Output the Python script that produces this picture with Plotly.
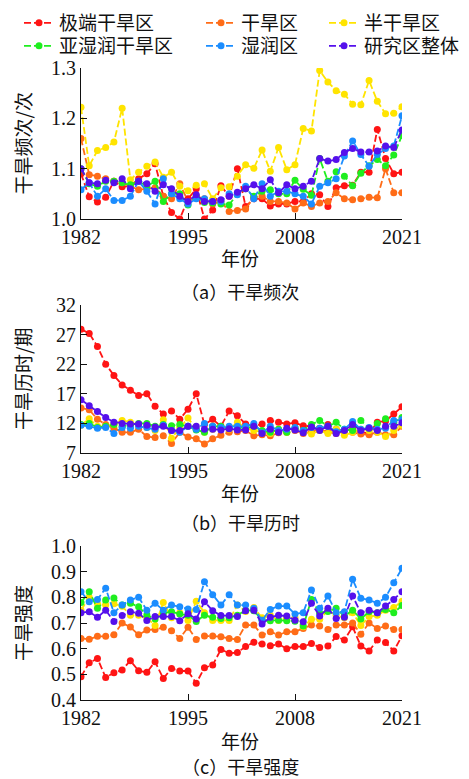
import plotly.graph_objects as go

years = list(range(1982, 2022))
names = ["极端干旱区", "干旱区", "半干旱区", "亚湿润干旱区", "湿润区", "研究区整体"]
colors = ["#ff1414", "#ff6c17", "#ffe400", "#1fee1f", "#1b8dff", "#5510ec"]

# (a) 干旱频次
freq_extreme = [1.09, 1.044, 1.034, 1.043, 1.075, 1.064, 1.065, 1.08, 1.09, 1.11, 1.045, 1.013, 1.0, 1.04, 1.06, 1.0,
                1.018, 1.066, 1.045, 1.1, 1.025, 1.04, 1.04, 1.026, 1.03, 1.03, 1.035, 1.035, 1.05, 1.048,
                1.025, 1.062, 1.066, 1.067, 1.093, 1.093, 1.178, 1.12, 1.09, 1.093]
freq_arid = [1.16, 1.088, 1.085, 1.08, 1.075, 1.072, 1.065, 1.058, 1.06, 1.062, 1.045, 1.04, 1.07, 1.035, 1.045, 1.04,
             1.03, 1.035, 1.015, 1.017, 1.02, 1.043, 1.045, 1.035, 1.035, 1.032, 1.02, 1.032, 1.025, 1.032,
             1.035, 1.052, 1.04, 1.038, 1.04, 1.043, 1.042, 1.1, 1.052, 1.052]
freq_semiarid = [1.222, 1.106, 1.136, 1.142, 1.153, 1.22, 1.078, 1.093, 1.105, 1.113, 1.083, 1.093, 1.065, 1.056, 1.067,
                 1.07, 1.04, 1.062, 1.064, 1.085, 1.108, 1.101, 1.137, 1.095, 1.142, 1.098, 1.108, 1.18, 1.175,
                 1.295, 1.272, 1.255, 1.248, 1.228, 1.227, 1.275, 1.234, 1.209, 1.21, 1.223]
freq_subhumid = [1.1, 1.07, 1.065, 1.075, 1.075, 1.072, 1.068, 1.075, 1.065, 1.075, 1.035, 1.05, 1.05, 1.028, 1.045,
                 1.033, 1.032, 1.03, 1.028, 1.05, 1.06, 1.045, 1.055, 1.058, 1.05, 1.05, 1.077, 1.059, 1.047,
                 1.12, 1.075, 1.094, 1.085, 1.066, 1.091, 1.106, 1.118, 1.106, 1.127, 1.166]
freq_humid = [1.058, 1.072, 1.045, 1.06, 1.037, 1.037, 1.045, 1.075, 1.055, 1.03, 1.08, 1.05, 1.04, 1.03, 1.04, 1.04,
              1.035, 1.035, 1.05, 1.048, 1.065, 1.04, 1.07, 1.045, 1.055, 1.055, 1.05, 1.045, 1.03, 1.065,
              1.072, 1.08, 1.125, 1.155, 1.128, 1.105, 1.128, 1.14, 1.145, 1.205]
freq_all = [1.1, 1.072, 1.07, 1.077, 1.072, 1.08, 1.06, 1.075, 1.07, 1.055, 1.068, 1.06, 1.045, 1.035, 1.048, 1.035,
            1.035, 1.038, 1.045, 1.053, 1.06, 1.068, 1.06, 1.078, 1.052, 1.068, 1.06, 1.065, 1.075, 1.12,
            1.115, 1.118, 1.132, 1.14, 1.133, 1.133, 1.135, 1.145, 1.142, 1.177]

# (b) 干旱历时
dur_extreme = [27.9, 27.2, 25.0, 22.0, 20.1, 18.5, 17.6, 16.7, 17.0, 14.9, 13.6, 14.1, 12.7, 14.4, 17.0, 11.8,
               12.7, 11.5, 14.1, 13.3, 11.9, 11.5, 11.9, 12.5, 12.2, 11.9, 12.1, 11.6, 11.5, 11.2,
               11.8, 11.0, 10.8, 11.0, 10.5, 10.3, 12.2, 12.4, 13.6, 14.8]
dur_arid = [14.6, 14.3, 12.7, 11.8, 11.2, 10.5, 10.5, 11.0, 9.8, 9.6, 9.9, 8.6, 10.5, 9.7, 9.4, 8.5,
            9.4, 10.0, 10.5, 10.6, 10.8, 9.9, 10.1, 9.9, 10.4, 10.5, 10.8, 10.3, 10.6, 11.0,
            10.5, 10.3, 10.8, 10.5, 10.2, 10.1, 10.5, 10.1, 10.1, 11.5]
dur_semiarid = [11.7, 12.8, 11.5, 11.5, 11.8, 12.5, 12.2, 11.8, 11.3, 10.8, 12.6, 9.5, 11.3, 12.9, 11.0, 10.5,
                11.0, 11.2, 11.0, 12.2, 11.2, 10.8, 10.5, 10.3, 11.0, 10.5, 11.2, 10.5, 10.2, 10.8,
                10.3, 11.0, 10.0, 10.5, 11.0, 10.8, 10.5, 9.8, 10.8, 11.7]
dur_subhumid = [11.8, 12.0, 11.3, 11.5, 11.8, 11.5, 11.7, 12.0, 12.0, 11.5, 11.8, 11.6, 11.8, 11.5, 10.9, 10.5,
                11.5, 11.5, 11.2, 11.3, 11.2, 11.5, 10.8, 10.5, 11.0, 10.5, 11.2, 10.8, 11.8, 12.5,
                11.5, 12.2, 11.0, 10.8, 12.5, 11.2, 12.0, 12.8, 12.2, 13.0]
dur_humid = [11.7, 11.5, 11.2, 11.3, 10.3, 11.3, 11.2, 11.5, 11.3, 11.0, 11.7, 10.8, 10.5, 11.5, 11.0, 12.0,
             11.5, 11.3, 11.5, 11.5, 11.5, 12.0, 10.4, 11.5, 10.8, 11.0, 11.3, 10.8, 11.3, 11.2,
             11.5, 10.6, 11.0, 12.3, 11.0, 11.3, 11.0, 11.2, 12.5, 12.6]
dur_all = [16.0, 15.0, 14.0, 13.0, 12.2, 12.0, 11.9, 11.9, 11.7, 11.4, 11.5, 10.8, 10.8, 11.5, 11.5, 11.0,
           11.0, 10.9, 11.1, 10.9, 10.9, 11.5, 10.3, 11.0, 10.5, 11.2, 10.9, 10.4, 11.4, 10.8,
           11.5, 10.3, 10.8, 11.8, 10.8, 11.2, 10.8, 11.5, 11.5, 12.1]

# (c) 干旱强度
int_extreme = [0.491, 0.545, 0.562, 0.488, 0.506, 0.517, 0.553, 0.514, 0.508, 0.549, 0.484, 0.523, 0.513, 0.513,
               0.465, 0.526, 0.536, 0.597, 0.582, 0.585, 0.608, 0.625, 0.618, 0.611, 0.618, 0.6, 0.608, 0.608,
               0.62, 0.605, 0.61, 0.647, 0.634, 0.685, 0.61, 0.591, 0.634, 0.624, 0.591, 0.65]
int_arid = [0.64, 0.637, 0.648, 0.648, 0.654, 0.70, 0.684, 0.654, 0.673, 0.675, 0.683, 0.67, 0.64, 0.683, 0.636,
            0.649, 0.649, 0.646, 0.64, 0.636, 0.692, 0.692, 0.653, 0.666, 0.653, 0.666, 0.666, 0.679, 0.692,
            0.688, 0.675, 0.692, 0.692, 0.70, 0.656, 0.70, 0.679, 0.688, 0.675, 0.675]
int_semiarid = [0.75, 0.80, 0.775, 0.77, 0.775, 0.765, 0.73, 0.73, 0.72, 0.69, 0.78, 0.72, 0.74, 0.71, 0.785, 0.74,
                0.71, 0.71, 0.71, 0.77, 0.745, 0.76, 0.72, 0.73, 0.71, 0.72, 0.72, 0.685, 0.715, 0.715,
                0.75, 0.73, 0.72, 0.74, 0.69, 0.725, 0.73, 0.75, 0.76, 0.785]
int_subhumid = [0.78, 0.822, 0.757, 0.79, 0.797, 0.77, 0.777, 0.763, 0.731, 0.716, 0.738, 0.744, 0.735, 0.73, 0.706,
                0.73, 0.722, 0.718, 0.72, 0.73, 0.75, 0.748, 0.711, 0.709, 0.711, 0.709, 0.707, 0.688, 0.792,
                0.738, 0.745, 0.757, 0.727, 0.75, 0.716, 0.744, 0.74, 0.753, 0.74, 0.768]
int_humid = [0.822, 0.783, 0.792, 0.835, 0.74, 0.77, 0.79, 0.80, 0.75, 0.777, 0.75, 0.77, 0.763, 0.755, 0.753,
             0.861, 0.81, 0.77, 0.81, 0.77, 0.77, 0.757, 0.711, 0.753, 0.766, 0.766, 0.735, 0.74, 0.829,
             0.757, 0.805, 0.74, 0.744, 0.87, 0.796, 0.79, 0.777, 0.80, 0.857, 0.913]
int_all = [0.74, 0.744, 0.722, 0.75, 0.706, 0.729, 0.744, 0.738, 0.71, 0.725, 0.725, 0.725, 0.709, 0.736, 0.716,
           0.783, 0.748, 0.729, 0.729, 0.725, 0.748, 0.75, 0.696, 0.722, 0.73, 0.727, 0.711, 0.705, 0.777,
           0.727, 0.757, 0.718, 0.722, 0.805, 0.74, 0.75, 0.74, 0.766, 0.792, 0.822]

panels = [
    [freq_extreme, freq_arid, freq_semiarid, freq_subhumid, freq_humid, freq_all],
    [dur_extreme, dur_arid, dur_semiarid, dur_subhumid, dur_humid, dur_all],
    [int_extreme, int_arid, int_semiarid, int_subhumid, int_humid, int_all],
]
ytitles = ["干旱频次/次", "干旱历时/期", "干旱强度"]
subtitles = ["（a）干旱频次", "（b）干旱历时", "（c）干旱强度"]
xticks = [1982, 1995, 2008, 2021]
yticks = [[1.0, 1.1, 1.2, 1.3], [7, 12, 17, 22, 27, 32], [0.4, 0.5, 0.6, 0.7, 0.8, 0.9, 1.0]]
yranges = [[1.0, 1.3], [7, 32], [0.4, 1.0]]
yfmt = [".1f", "d", ".1f"]

# page body adds an 8px offset; all target positions below are in screen px
OFF = 8
W, H = 469, 779
ML = 81 - OFF
MR = W - (402 - OFF)
PW = W - ML - MR
plot_px = [(68, 219), (305, 453), (546, 700)]  # top, bottom (screen px)
xtitle_y = [258, 492, 740]
sub_y = [291, 522, 766]
# legend placement (figure px): symbol start ~ x+6+OFF, row centre ~ y+5 on screen
leg_pos = [(11, 15), (193, 15), (316, 15), (11, 38), (193, 38), (316, 38)]

CJK = "Noto Sans CJK SC"
SERIF = "Liberation Serif"


def py(v):
    return 1 - (v - OFF) / H


def px(v):
    return (v - OFF - ML) / PW


fig = go.Figure()
for p, series in enumerate(panels):
    for i, vals in enumerate(series):
        fig.add_trace(go.Scatter(
            x=years, y=vals, name=names[i], mode="lines+markers",
            line=dict(color=colors[i], width=1.8, dash="7px,3px"),
            marker=dict(color=colors[i], size=7),
            xaxis="x" if p == 0 else f"x{p+1}",
            yaxis="y" if p == 0 else f"y{p+1}",
            showlegend=(p == 0), legend="legend" if i == 0 else f"legend{i+1}",
        ))

layout = dict(
    width=W, height=H, paper_bgcolor="white", plot_bgcolor="white",
    margin=dict(l=ML, r=MR, t=0, b=0, autoexpand=False),
    font=dict(family=SERIF, size=18, color="#111"),
    annotations=[],
)
for p in range(3):
    top, bot = plot_px[p]
    xa = "xaxis" if p == 0 else f"xaxis{p+1}"
    ya = "yaxis" if p == 0 else f"yaxis{p+1}"
    yid = "y" if p == 0 else f"y{p+1}"
    xid = "x" if p == 0 else f"x{p+1}"
    layout[xa] = dict(
        domain=[0, 1], anchor=yid, range=[1982, 2021], tickvals=xticks,
        showline=True, linecolor="#111", linewidth=1.2, ticks="inside", ticklen=6,
        tickcolor="#111", showgrid=False, zeroline=False,
        tickfont=dict(family=SERIF, size=20, color="#111"),
    )
    layout[ya] = dict(
        domain=[py(bot), py(top)], anchor=xid, range=yranges[p], tickvals=yticks[p],
        tickformat=yfmt[p], showline=True, linecolor="#111", linewidth=1.2, ticks="inside",
        ticklen=6, tickcolor="#111", showgrid=False, zeroline=False,
        tickfont=dict(family=SERIF, size=20, color="#111"),
    )
    cy = (top + bot) / 2
    layout["annotations"].append(dict(
        text=ytitles[p], textangle=-90, xref="paper", yref="paper",
        x=px(22), y=py(cy), showarrow=False,
        font=dict(family=CJK, size=19, color="#111"), xanchor="center", yanchor="middle",
    ))
    layout["annotations"].append(dict(
        text="年份", xref="paper", yref="paper",
        x=px(240), y=py(xtitle_y[p]), showarrow=False,
        font=dict(family=CJK, size=19, color="#111"), xanchor="center", yanchor="middle",
    ))
    layout["annotations"].append(dict(
        text=subtitles[p], xref="paper", yref="paper",
        x=px(240), y=py(sub_y[p]), showarrow=False,
        font=dict(family=CJK, size=18, color="#111"), xanchor="center", yanchor="middle",
    ))

for i in range(6):
    lx, ly = leg_pos[i]
    key = "legend" if i == 0 else f"legend{i+1}"
    layout[key] = dict(
        x=(lx - ML) / PW, y=1 - ly / H, xref="paper", yref="paper",
        xanchor="left", yanchor="middle", orientation="v", bgcolor="rgba(0,0,0,0)",
        font=dict(family=CJK, size=19, color="#111"), itemwidth=30,
    )

fig.update_layout(**layout)
fig.write_html("out.html")
